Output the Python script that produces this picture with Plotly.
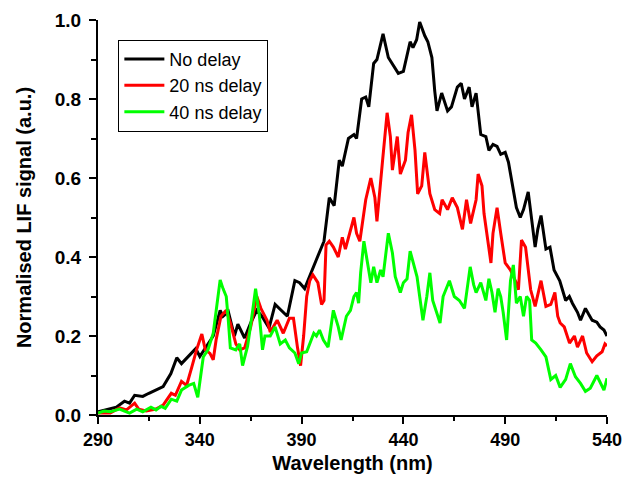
import plotly.graph_objects as go

# ---- data ----
nm_black = [290, 295, 299, 303, 305.5, 308, 312, 315, 318.5, 322, 325.8, 328.7, 331, 334.5, 338, 340, 343, 346.6,
            350, 351.4, 354, 357, 358.7, 362, 365, 368, 370.5, 374, 377, 380, 383, 386.7, 389, 391.5, 394, 397,
            401, 403.6, 406, 408.5, 410, 413, 415.7, 417, 419.5, 421.5, 423, 425.4, 427, 430, 432.6, 434.5, 436,
            437.5, 440, 441.8, 443.3, 444.7, 446.5, 448, 450.5, 452, 454, 455.4, 456.5, 458.8, 461.7, 463.6, 466.5,
            468.4, 470, 472.3, 473.7, 475.7, 478, 480.5, 482, 484, 486, 487.8, 490, 491.6, 494, 495.5, 497.4, 499,
            501.3, 503, 504.7, 506, 507.6, 510, 512, 514, 516.8, 519.7, 521.5, 523, 525.5, 527, 529.4, 531, 532.7,
            535, 536.6, 538.5, 540]
val_black = [0.008, 0.015, 0.02, 0.035, 0.03, 0.05, 0.047, 0.055, 0.063, 0.072, 0.105, 0.145, 0.13, 0.15, 0.168,
             0.148, 0.172, 0.2, 0.265, 0.25, 0.262, 0.2, 0.23, 0.195, 0.233, 0.265, 0.25, 0.22, 0.28, 0.265, 0.25,
             0.34, 0.335, 0.32, 0.35, 0.39, 0.44, 0.55, 0.53, 0.645, 0.63, 0.70, 0.71, 0.70, 0.80, 0.805, 0.78, 0.89,
             0.90, 0.965, 0.905, 0.89, 0.88, 0.865, 0.87, 0.915, 0.945, 0.93, 0.95, 0.995, 0.96, 0.945, 0.905, 0.82,
             0.77, 0.815, 0.77, 0.78, 0.83, 0.84, 0.80, 0.83, 0.78, 0.815, 0.71, 0.705, 0.67, 0.685, 0.68, 0.66,
             0.665, 0.64, 0.57, 0.525, 0.50, 0.52, 0.565, 0.49, 0.425, 0.47, 0.505, 0.42, 0.425, 0.367, 0.34, 0.29,
             0.3, 0.283, 0.26, 0.24, 0.27, 0.255, 0.24, 0.235, 0.223, 0.215, 0.2]

nm_red = [290, 293, 296, 300.6, 304, 308, 310, 313.7, 318.5, 322, 326, 328, 331, 333.5, 336, 338.4, 341, 342.7, 345,
          346.6, 348, 350.4, 353, 355, 357.7, 359.6, 362, 365, 368, 370, 373, 374.6, 378, 381, 384, 386, 388, 389.5,
          391, 392.5, 394, 395.5, 398, 399.8, 401, 402, 403.6, 405.6, 408, 410, 411.5, 413, 415.7, 417, 418.6,
          421.5, 424, 426, 427, 429.7, 432, 433.6, 434.6, 437, 438.5, 441, 442.3, 444, 445.7, 447, 449, 450.5, 452,
          453, 455.4, 457.8, 459, 461.7, 464, 466.5, 469, 471, 473, 475.7, 476.7, 478.6, 479.6, 481, 483, 484, 486,
          487.8, 490, 492.6, 495, 496.5, 498, 500, 501.5, 502.5, 504.7, 507.6, 510, 512.4, 514.4, 515.8, 517, 519,
          521.6, 524, 525.5, 528, 530, 532.7, 535, 537.6, 539, 540]
val_red = [0.005, 0.006, 0.005, 0.018, 0.013, 0.03, 0.015, 0.01, 0.015, 0.025, 0.055, 0.05, 0.085, 0.075, 0.12,
           0.165, 0.205, 0.165, 0.156, 0.14, 0.19, 0.25, 0.265, 0.233, 0.18, 0.165, 0.17, 0.223, 0.3, 0.27, 0.24,
           0.21, 0.24, 0.207, 0.245, 0.245, 0.17, 0.125, 0.2, 0.3, 0.34, 0.355, 0.335, 0.28, 0.29, 0.43, 0.44,
           0.425, 0.40, 0.45, 0.42, 0.45, 0.50, 0.46, 0.44, 0.545, 0.60, 0.55, 0.49, 0.64, 0.765, 0.705, 0.62,
           0.705, 0.61, 0.645, 0.715, 0.76, 0.67, 0.56, 0.58, 0.665, 0.6, 0.56, 0.52, 0.51, 0.545, 0.52, 0.55,
           0.525, 0.47, 0.545, 0.485, 0.545, 0.61, 0.58, 0.51, 0.46, 0.385, 0.46, 0.525, 0.46, 0.385, 0.367, 0.34,
           0.317, 0.443, 0.425, 0.36, 0.317, 0.275, 0.34, 0.275, 0.28, 0.31, 0.25, 0.233, 0.223, 0.182, 0.2, 0.172,
           0.2, 0.157, 0.135, 0.15, 0.16, 0.18, 0.175]

nm_green = [290, 293, 296, 300.6, 303, 305.5, 309, 312, 316, 318.5, 321, 323, 326, 328.7, 331, 334.5, 337, 339,
            341.7, 344, 346.6, 348, 350, 351.4, 353, 354, 355, 357.7, 359.6, 361, 363.5, 366, 367.4, 369.3, 370.8,
            372, 374.6, 377, 379.5, 382, 384, 386.7, 388.6, 390, 392.5, 396, 397.3, 398.8, 400.7, 403, 405.6, 408,
            409.4, 412, 414, 415.7, 417, 418, 419, 420.6, 422.5, 424, 425.4, 427, 428.8, 430, 432.6, 434.6, 436,
            438.5, 440, 441.8, 443.3, 444.7, 446.7, 448, 449.6, 451.5, 453, 454.4, 456.3, 458, 459.5, 462.6, 465,
            467.5, 470, 472.8, 474.5, 475.7, 478, 480.5, 482, 483.5, 485, 486.5, 487.8, 489, 490.7, 492.6, 494,
            495.5, 497.4, 499, 500.5, 502, 503, 505, 507.6, 510, 512.4, 514.8, 517, 519.7, 522, 524.5, 527, 529.4,
            531.8, 535, 538.5, 540]
val_green = [0.005, 0.01, 0.008, 0.015, 0.01, 0.005, 0.015, 0.008, 0.02, 0.013, 0.022, 0.017, 0.04, 0.035, 0.063,
             0.075, 0.08, 0.045, 0.147, 0.165, 0.207, 0.26, 0.342, 0.32, 0.3, 0.24, 0.17, 0.165, 0.18, 0.125, 0.175,
             0.265, 0.32, 0.25, 0.165, 0.2, 0.2, 0.223, 0.18, 0.19, 0.17, 0.157, 0.13, 0.157, 0.16, 0.207, 0.2,
             0.215, 0.19, 0.172, 0.265, 0.223, 0.19, 0.25, 0.265, 0.3, 0.31, 0.283, 0.36, 0.44, 0.385, 0.335, 0.375,
             0.335, 0.367, 0.35, 0.46, 0.41, 0.35, 0.31, 0.335, 0.345, 0.415, 0.385, 0.35, 0.3, 0.24, 0.3, 0.36,
             0.29, 0.26, 0.233, 0.3, 0.34, 0.3, 0.29, 0.27, 0.375, 0.33, 0.31, 0.335, 0.29, 0.345, 0.31, 0.26, 0.32,
             0.30, 0.26, 0.19, 0.34, 0.38, 0.283, 0.3, 0.25, 0.3, 0.29, 0.19, 0.182, 0.165, 0.147, 0.09, 0.1, 0.07,
             0.09, 0.13, 0.097, 0.08, 0.06, 0.068, 0.1, 0.063, 0.093]

series_names = ["No delay", "20 ns delay", "40 ns delay"]
series_colors = ["#000000", "#ff0000", "#00ff00"]

x_ticks = [290, 340, 390, 440, 490, 540]
y_ticks = [0.0, 0.2, 0.4, 0.6, 0.8, 1.0]
y_ticklabels = ["0.0", "0.2", "0.4", "0.6", "0.8", "1.0"]

FONT = "Arial, Liberation Sans, sans-serif"

fig = go.Figure()
for xs, ys, name, col in zip([nm_black, nm_red, nm_green], [val_black, val_red, val_green],
                             series_names, series_colors):
    fig.add_trace(go.Scatter(x=xs, y=ys, mode="lines", name=name,
                             line=dict(color=col, width=3)))

# the page body has an 8 px default margin, so the figure is sized/margined to fit inside it
fig.update_layout(
    width=614, height=466,
    margin=dict(l=90, r=15, t=12, b=59, autoexpand=False),
    plot_bgcolor="white", paper_bgcolor="white",
    font=dict(family=FONT, color="black"),
    showlegend=True,
    legend=dict(x=0.04, y=0.95, xanchor="left", yanchor="top",
                bordercolor="black", borderwidth=1, bgcolor="white",
                font=dict(size=18, family=FONT, color="black"),
                tracegroupgap=0, itemwidth=40),
)
fig.update_xaxes(
    range=[290, 540], tickvals=x_ticks, ticktext=[str(v) for v in x_ticks],
    showline=True, linecolor="black", linewidth=2, mirror=False,
    showgrid=False, zeroline=False, automargin=False,
    ticks="outside", ticklen=7, tickwidth=1.5, tickcolor="black",
    ticklabeloverflow="allow",
    minor=dict(dtick=25, tick0=290, ticks="outside", ticklen=4, tickwidth=1.5, tickcolor="black", showgrid=False),
    tickfont=dict(size=18, family=FONT, color="black", weight="bold"),
    title=dict(text="<b>Wavelength (nm)</b>", font=dict(size=20, family=FONT, color="black"), standoff=9),
)
fig.update_yaxes(
    range=[0, 1.0], tickvals=y_ticks, ticktext=y_ticklabels,
    showline=True, linecolor="black", linewidth=2, mirror=False,
    showgrid=False, zeroline=False, automargin=False,
    ticks="outside", ticklen=7, tickwidth=1.5, tickcolor="black", ticklabelstandoff=4,
    ticklabeloverflow="allow",
    minor=dict(dtick=0.1, tick0=0, ticks="outside", ticklen=5, tickwidth=1.5, tickcolor="black", showgrid=False),
    tickfont=dict(size=19, family=FONT, color="black", weight="bold"),
    title=dict(text="<b>Normalised LIF signal (a.u.)</b>", font=dict(size=20, family=FONT, color="black"), standoff=18),
)

fig.write_html("out.html")
